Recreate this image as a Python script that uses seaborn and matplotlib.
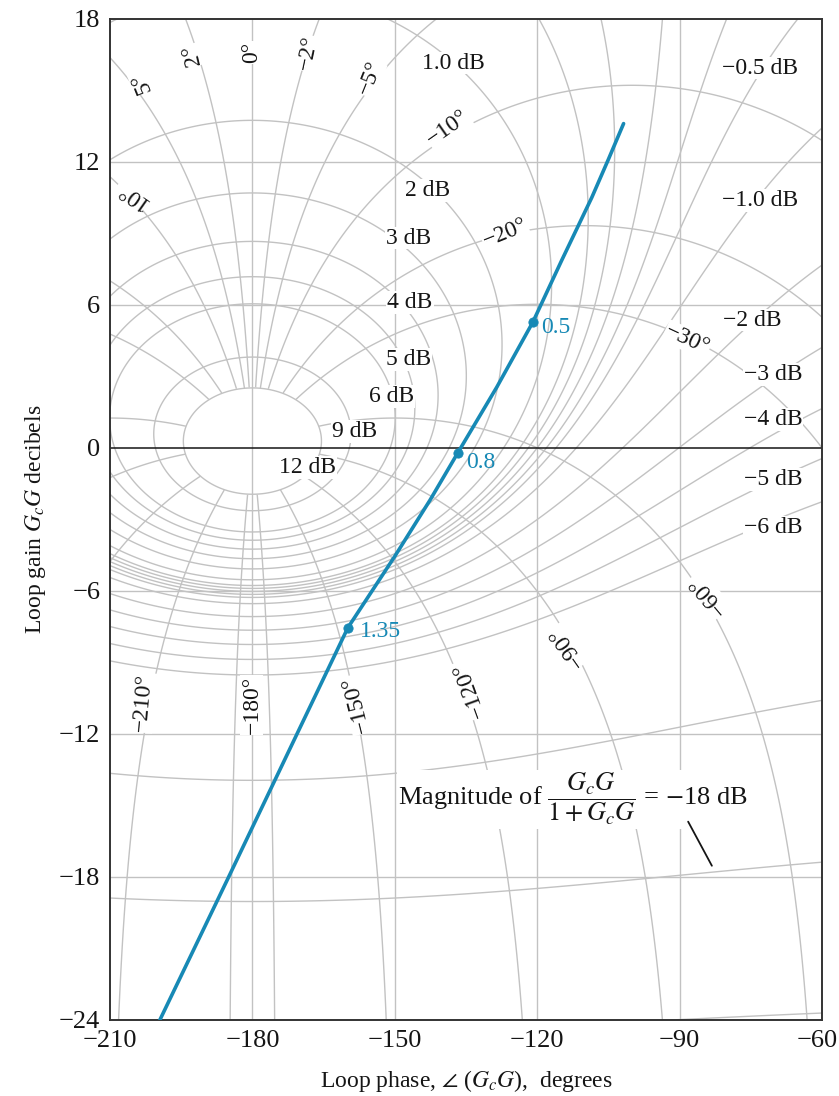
import numpy as np
import matplotlib
matplotlib.use("Agg")
import matplotlib.pyplot as plt
import seaborn as sns
import pandas as pd

# ---------------- data ----------------
locus_phase = [-199.5, -185.0, -170.6, -159.9, -150.0, -142.6, -136.7,
               -128.5, -120.9, -114.8, -108.5, -105.0, -101.8]
locus_gain = [-24.0, -18.0, -12.0, -7.55, -4.55, -2.2, -0.2,
              2.55, 5.28, 7.88, 10.5, 12.1, 13.6]

marker_phase = [-120.9, -136.7, -159.9]
marker_gain = [5.28, -0.2, -7.55]
marker_labels = ["0.5", "0.8", "1.35"]

mag_levels = [-24, -18, -12, -6, -5, -4, -3, -2, -1, -0.5, -0.25, 0,
              0.25, 0.5, 1, 2, 3, 4, 5, 6, 9, 12]
phase_levels_right = [-175, -150, -120, -90, -60, -30, -20, -10, -5, -2]
phase_levels_left = [-358, -355, -350, -340, -330, -300, -270, -240, -210, -185]

x_ticks = [-210, -180, -150, -120, -90, -60]
y_ticks = [-24, -18, -12, -6, 0, 6, 12, 18]

mag_text = ["1.0 dB", "2 dB", "3 dB", "4 dB", "5 dB", "6 dB", "9 dB", "12 dB",
            "−0.5 dB", "−1.0 dB", "−2 dB", "−3 dB", "−4 dB", "−5 dB", "−6 dB"]
mag_text_phase = [-137.7, -143.0, -147.2, -146.8, -147.2, -150.6, -158.4, -168.3,
                  -73.1, -73.1, -74.75, -70.3, -70.3, -70.3, -70.3]
mag_text_gain = [16.14, 10.81, 8.80, 6.08, 3.69, 2.14, 0.67, -0.84,
                 15.93, 10.39, 5.36, 3.06, 1.17, -1.34, -3.35]

ph_text = ["5°", "2°", "0°", "−2°", "−5°", "−10°", "10°", "−20°", "−30°",
           "−60°", "−90°", "−210°", "−180°", "−150°", "−120°"]
ph_text_phase = [-203.3, -192.7, -180.1, -168.3, -155.2, -138.8, -205.4, -126.8,
                 -88.4, -84.0, -113.7, -203.0, -180.1, -158.0, -134.2]
ph_text_gain = [15.34, 16.47, 16.6, 16.55, 15.5, 13.41, 10.6, 9.01,
                4.53, -6.16, -8.34, -10.69, -10.77, -10.77, -10.14]
ph_text_rot = [112, 103, 90, 78, 68, 35, 145, 22, -25, 130, 125, 85, 90, 104, 110]

# ---------------- styling ----------------
sns.set_theme(style="white")
plt.rcParams["font.family"] = ["Liberation Serif", "DejaVu Serif"]
plt.rcParams["mathtext.fontset"] = "stix"

W, H = 839, 1096
fig = plt.figure(figsize=(W / 100, H / 100), dpi=100)
ax = fig.add_axes([110 / W, 1 - 1020 / H, (822 - 110) / W, (1020 - 18.7) / H])

grid_c = "#c2c2c2"
blue = "#1789b5"
ink = "#151515"


def closed_loop(phi_deg, g_db):
    G = 10 ** (g_db / 20) * np.exp(1j * np.deg2rad(phi_deg))
    T = G / (1 + G)
    M = 20 * np.log10(np.abs(T))
    psi = phi_deg - np.rad2deg(np.angle(1 + G))
    return M, psi


g = np.linspace(-24, 18, 1400)
ph_full = np.linspace(-210, -60, 1400)
P, Gd = np.meshgrid(ph_full, g)
M, _ = closed_loop(P, Gd)
ax.contour(P, Gd, M, levels=mag_levels, colors=grid_c, linewidths=1.0,
           linestyles="solid", zorder=1)

ph_r = np.linspace(-179.97, -60, 1200)
Pr, Gr = np.meshgrid(ph_r, g)
M_r, psi_r = closed_loop(Pr, Gr)
psi_r = np.where(M_r > 12, np.nan, psi_r)
ax.contour(Pr, Gr, psi_r, levels=phase_levels_right, colors=grid_c,
           linewidths=1.0, linestyles="solid", zorder=1)

ph_l = np.linspace(-210, -180.03, 400)
Pl, Gl = np.meshgrid(ph_l, g)
M_l, psi_l = closed_loop(Pl, Gl)
psi_l = np.where(M_l > 12, np.nan, psi_l)
ax.contour(Pl, Gl, psi_l, levels=phase_levels_left, colors=grid_c,
           linewidths=1.0, linestyles="solid", zorder=1)

# rectangular grid
for yv in y_ticks[1:-1]:
    if yv == 0:
        ax.axhline(0, color=ink, lw=1.1, zorder=2)
    else:
        ax.axhline(yv, color=grid_c, lw=1.0, zorder=1)
for xv in x_ticks[1:-1]:
    ax.axvline(xv, color=grid_c, lw=1.0, zorder=1)

# labels on contours
box = dict(fc="white", ec="none", pad=0.6)
for t, x, y in zip(mag_text, mag_text_phase, mag_text_gain):
    ax.text(x, y, t, ha="center", va="center", fontsize=17, color=ink,
            bbox=box, zorder=3)
for t, x, y, r in zip(ph_text, ph_text_phase, ph_text_gain, ph_text_rot):
    ax.text(x, y, t, ha="center", va="center", fontsize=17, color=ink,
            rotation=r, rotation_mode="anchor", bbox=box, zorder=3)

ax.text(-149.3, -14.75,
        r"Magnitude of $\dfrac{G_cG}{1 + G_cG}$ = $-$18 dB",
        ha="left", va="center", fontsize=19, color=ink,
        bbox=dict(fc="white", ec="none", pad=1.0), zorder=3)
ax.plot([-88.2, -83.2], [-15.68, -17.53], color=ink, lw=1.3, zorder=3)

# open-loop locus
locus = pd.DataFrame({"phase": locus_phase, "gain": locus_gain})
sns.lineplot(data=locus, x="phase", y="gain", sort=False, color=blue, lw=2.6,
             ax=ax, zorder=5)
marks = pd.DataFrame({"phase": marker_phase, "gain": marker_gain})
sns.scatterplot(data=marks, x="phase", y="gain", color=blue, s=45,
                edgecolor=blue, ax=ax, zorder=6)
offsets = [(6, -4), (6, -7), (9, -3)]
for x, y, t, off in zip(marker_phase, marker_gain, marker_labels, offsets):
    ax.annotate(t, (x, y), xytext=off, textcoords="offset points",
                ha="left", va="center", fontsize=17, color=blue, zorder=6)

# axes
ax.set_xlim(-210, -60)
ax.set_ylim(-24, 18)
ax.set_xticks(x_ticks)
ax.set_yticks(y_ticks)
xt_labels = [f"−{abs(v)}" for v in x_ticks]
ax.set_xticklabels(xt_labels[:-1] + [""])
ax.annotate(xt_labels[-1], (1, 0), xycoords="axes fraction", xytext=(11, -7),
            textcoords="offset points", ha="right", va="top", fontsize=19,
            color=ink)
ax.set_yticklabels([f"−{abs(v)}" if v < 0 else str(v) for v in y_ticks])
ax.tick_params(axis="both", length=0, labelsize=19, pad=7, colors=ink)
for s in ax.spines.values():
    s.set_color("#333333")
    s.set_linewidth(1.4)
ax.set_xlabel(r"Loop phase, $\angle$ ($G_cG$),  degrees", fontsize=17,
              labelpad=12, color=ink)
ax.set_ylabel(r"Loop gain $G_cG$ decibels", fontsize=17, labelpad=8, color=ink)

fig.savefig("out.png", dpi=100)
